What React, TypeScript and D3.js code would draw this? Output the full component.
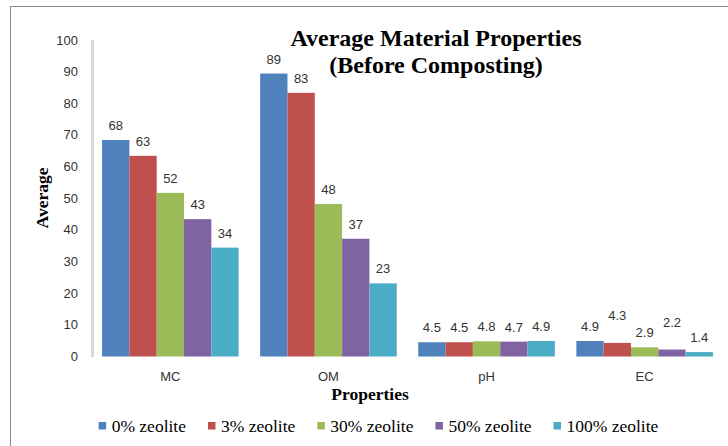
import React, { useEffect, useRef } from "react";
import * as d3 from "d3";

const categories = ["MC", "OM", "pH", "EC"];
const seriesNames = ["0% zeolite", "3% zeolite", "30% zeolite", "50% zeolite", "100% zeolite"];
const seriesColors = ["#4F81BD", "#C0504D", "#9BBB59", "#8064A2", "#4BACC6"];
// values per series, in category order MC, OM, pH, EC
const zeolite0 = [68.4, 89.4, 4.5, 4.9];
const zeolite3 = [63.4, 83.3, 4.5, 4.3];
const zeolite30 = [51.7, 48.2, 4.8, 2.9];
const zeolite50 = [43.4, 37.2, 4.7, 2.2];
const zeolite100 = [34.4, 23.1, 4.9, 1.4];
const labelDecimals = [0, 0, 1, 1];
const yTicks = [0, 10, 20, 30, 40, 50, 60, 70, 80, 90, 100];
const titleLines = ["Average Material Properties", "(Before Composting)"];

const W = 728;
const H = 446;

export default function App() {
  const ref = useRef<SVGSVGElement | null>(null);

  useEffect(() => {
    const svg = d3.select(ref.current);
    svg.selectAll("*").remove();
    const series = [zeolite0, zeolite3, zeolite30, zeolite50, zeolite100];

    // frame
    svg.append("rect")
      .attr("x", 10.5).attr("y", 6.5)
      .attr("width", 800).attr("height", 600)
      .attr("fill", "white").attr("stroke", "#8a8a8a").attr("stroke-width", 1);

    const y = d3.scaleLinear().domain([0, 100]).range([356.5, 40]);
    const x0 = d3.scaleBand<string>().domain(categories).range([91, 724])
      .paddingInner(0.136).paddingOuter(0.07);
    const x1 = d3.scaleBand<number>().domain(d3.range(series.length))
      .range([0, x0.bandwidth()]).padding(0);

    const sans = "Liberation Sans, Arial, sans-serif";
    const serif = "Liberation Serif, Times New Roman, serif";

    // y axis line
    svg.append("line")
      .attr("x1", 92.5).attr("x2", 92.5)
      .attr("y1", y(100)).attr("y2", y(0) + 0.5)
      .attr("stroke", "#d9d9d9").attr("stroke-width", 3);

    // y tick labels
    svg.append("g").selectAll("text").data(yTicks).join("text")
      .attr("x", 78).attr("y", (d) => y(d) + 4.5)
      .attr("text-anchor", "end")
      .style("font-family", sans).style("font-size", "13px").attr("fill", "#333")
      .text((d) => String(d));

    // bars
    const g = svg.append("g");
    categories.forEach((cat, ci) => {
      series.forEach((vals, si) => {
        const v = vals[ci];
        const bx = (x0(cat) as number) + (x1(si) as number);
        const bw = x1.bandwidth();
        g.append("rect")
          .attr("x", bx).attr("y", y(v))
          .attr("width", bw).attr("height", y(0) - y(v))
          .attr("fill", seriesColors[si]);
        const lift = cat === "EC" && si % 2 === 1 ? 13 : 0;
        g.append("text")
          .attr("x", bx + bw / 2).attr("y", y(v) - 10 - lift)
          .attr("text-anchor", "middle")
          .style("font-family", sans).style("font-size", "13px").attr("fill", "#333")
          .text(v.toFixed(labelDecimals[ci]));
      });
    });

    // category labels
    svg.append("g").selectAll("text").data(categories).join("text")
      .attr("x", (d) => (x0(d) as number) + x0.bandwidth() / 2)
      .attr("y", 380.5)
      .attr("text-anchor", "middle")
      .style("font-family", sans).style("font-size", "13px").attr("fill", "#333")
      .text((d) => d);

    // title
    titleLines.forEach((t, i) => {
      svg.append("text")
        .attr("x", 436).attr("y", 46 + i * 27)
        .attr("text-anchor", "middle")
        .style("font-family", serif).style("font-weight", "bold").style("font-size", "24px")
        .attr("fill", "#000")
        .text(t);
    });

    // axis titles
    svg.append("text")
      .attr("x", 370).attr("y", 400)
      .attr("text-anchor", "middle")
      .style("font-family", serif).style("font-weight", "bold").style("font-size", "17.5px")
      .text("Properties");
    svg.append("text")
      .attr("transform", "translate(48,198) rotate(-90)")
      .attr("text-anchor", "middle")
      .style("font-family", serif).style("font-weight", "bold").style("font-size", "17.5px")
      .text("Average");

    // legend
    const leg = svg.append("g");
    const items = seriesNames.map((name, i) => {
      const gi = leg.append("g");
      gi.append("rect").attr("x", 0).attr("y", -4).attr("width", 7.5).attr("height", 7.5)
        .attr("fill", seriesColors[i]);
      const t = gi.append("text").attr("x", 13).attr("y", 5.5)
        .style("font-family", serif).style("font-size", "17.5px").attr("fill", "#000")
        .text(name);
      const w = 13 + (t.node() as SVGTextElement).getComputedTextLength();
      return { gi, w };
    });
    const gap = 22;
    const total = d3.sum(items, (d) => d.w) + gap * (items.length - 1);
    let cx = 378.5 - total / 2;
    items.forEach(({ gi, w }) => {
      gi.attr("transform", `translate(${cx},426)`);
      cx += w + gap;
    });
  }, []);

  return (
    <svg
      ref={ref}
      width={W}
      height={H}
      style={{ position: "absolute", left: 0, top: 0, background: "white" }}
    />
  );
}
